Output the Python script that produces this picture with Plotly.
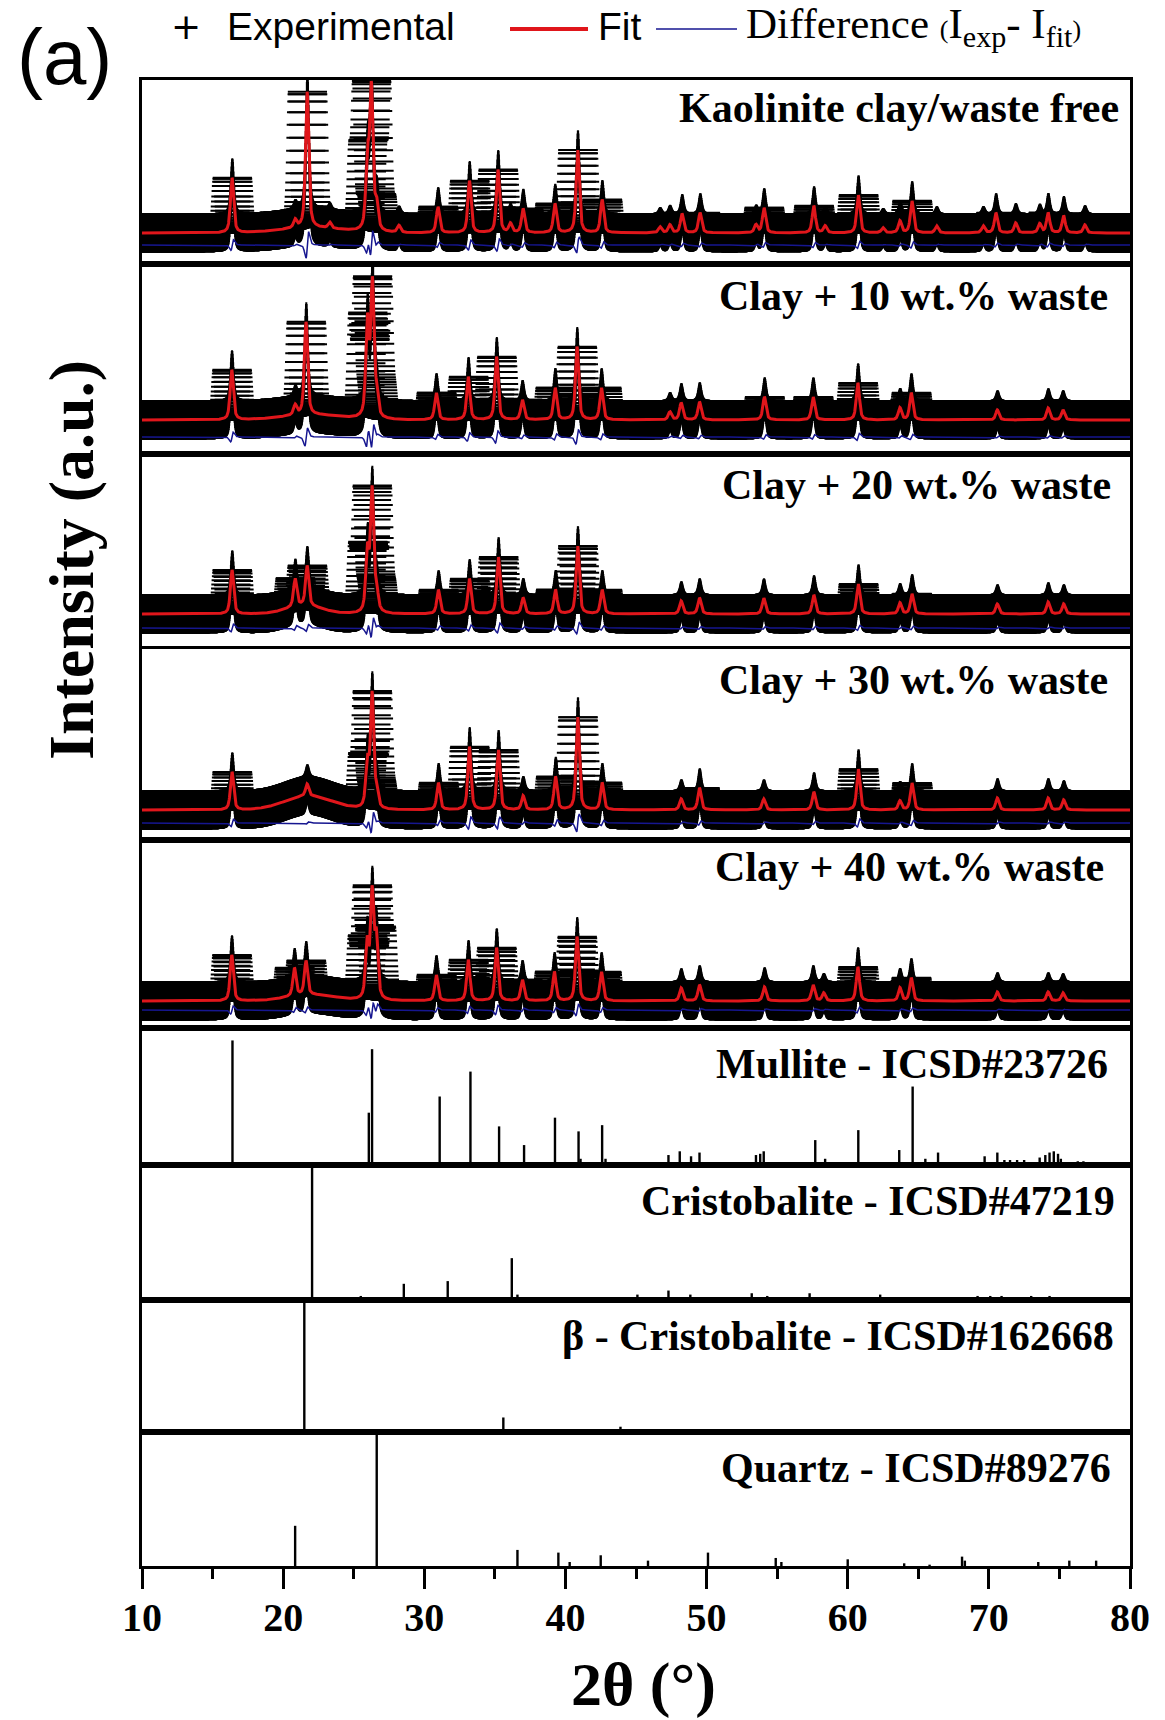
import numpy as np
import plotly.graph_objects as go
from plotly.subplots import make_subplots

# ---------------------------------------------------------------- data
# 2θ sampling of the measured diffractograms (step 0.02°)
two_theta = np.round(np.arange(10.0, 80.0001, 0.02), 3)

sample_labels = [
    "Kaolinite clay/waste free",
    "Clay + 10 wt.% waste",
    "Clay + 20 wt.% waste",
    "Clay + 30 wt.% waste",
    "Clay + 40 wt.% waste",
]

# refined reflections of each sample: position (°2θ) and height above background (a.u.)
pos_free = [16.38, 20.85, 21.70, 23.30, 25.97, 26.25, 26.62, 28.20, 30.97, 33.20, 35.22, 36.10,
            37.00, 39.26, 40.87, 42.60, 46.70, 47.40, 48.26, 49.54, 53.50, 54.07, 57.60, 58.40,
            60.75, 62.50, 63.70, 64.55, 66.30, 69.60, 70.50, 71.90, 73.60, 74.20, 75.30, 76.80]
int_free = [55, 8, 136, 6, 70, 140, 25, 7, 26, 52, 63, 9,
            24, 29, 83, 33, 6, 8, 19, 20, 8, 25, 27, 7,
            38, 5, 12, 32, 7, 7, 20, 10, 9, 20, 17, 8]

pos_10 = [16.36, 20.85, 21.62, 25.97, 26.32, 26.62, 30.85, 33.12, 35.12, 36.95, 39.27, 40.82,
          42.55, 47.40, 48.20, 49.50, 54.10, 57.55, 60.72, 63.70, 64.50, 70.60, 74.20, 75.25]
int_10 = [50, 10, 93, 95, 133, 20, 27, 43, 63, 20, 32, 73,
          32, 8, 17, 18, 23, 23, 37, 12, 27, 10, 12, 10]

pos_20 = [16.38, 20.85, 21.70, 25.97, 26.30, 26.62, 31.00, 33.20, 35.25, 37.00, 39.30, 40.87,
          42.60, 48.20, 49.50, 54.05, 57.60, 60.75, 63.70, 64.55, 70.60, 74.20, 75.30]
int_20 = [44, 28, 40, 60, 121, 20, 24, 35, 57, 16, 24, 68,
          24, 13, 16, 16, 19, 30, 11, 20, 10, 12, 10]

pos_30 = [16.38, 21.70, 25.97, 26.30, 26.62, 31.00, 33.20, 35.25, 37.00, 39.30, 40.87, 42.60,
          48.20, 49.50, 54.05, 57.60, 60.75, 63.70, 64.55, 70.60, 74.20, 75.30]
int_30 = [38, 12, 45, 113, 15, 27, 63, 60, 14, 33, 93, 27,
          11, 22, 11, 18, 41, 9, 27, 12, 12, 10]

pos_40 = [16.36, 20.80, 21.62, 25.95, 26.30, 26.60, 30.85, 33.12, 35.12, 36.95, 39.22, 40.82,
          42.55, 48.20, 49.50, 54.10, 57.55, 58.30, 60.72, 63.70, 64.50, 70.60, 74.20, 75.25]
int_40 = [46, 28, 34, 55, 104, 60, 26, 41, 53, 21, 29, 64,
          29, 13, 16, 14, 16, 8, 34, 13, 23, 9, 9, 8]

sample_positions = [pos_free, pos_10, pos_20, pos_30, pos_40]
sample_heights = [int_free, int_10, int_20, int_30, int_40]

background = [100, 100, 100, 100, 100]        # flat background level (a.u.)
hump_center = [22.0, 22.0, 21.5, 21.8, 22.0]  # broad amorphous band
hump_height = [5, 5, 8, 14, 6]
hump_fwhm = [5.0, 5.0, 3.0, 4.0, 4.0]
peak_fwhm = 0.27                              # instrumental peak width (°)
peak_eta = 0.6                                # Lorentzian fraction of the pseudo-Voigt
zero_shift = [0.02, 0.02, 0.018, 0.02, 0.018]  # measured minus refined peak positions (°)

# reference stick patterns (ICSD): position (°2θ) and relative intensity
mullite_pos = [16.41, 23.20, 26.07, 26.30, 31.09, 33.27, 35.30, 37.07, 39.26, 40.93, 41.07,
               42.60, 42.84, 47.30, 48.10, 48.90, 49.50, 53.50, 53.80, 54.05, 57.70, 58.40,
               60.75, 61.60, 63.20, 63.65, 64.60, 65.50, 66.40, 67.30, 69.70, 70.60, 71.10,
               71.50, 72.00, 72.50, 73.60, 74.00, 74.30, 74.60, 74.90, 75.10, 76.30, 76.70,
               77.70, 78.20]
mullite_int = [100, 2, 42, 93, 55, 75, 31, 16, 38, 27, 5,
               32, 5, 8, 11, 7, 10, 8, 9, 11, 20, 5,
               28, 2, 2, 12, 63, 5, 10, 2, 7, 10, 4,
               4, 4, 4, 6, 8, 10, 11, 9, 5, 3, 3,
               2, 2]

cristobalite_pos = [22.05, 25.50, 28.55, 31.66, 36.20, 36.60, 42.90, 45.10, 47.30, 48.85,
                    52.20, 53.20, 54.30, 57.30, 58.90, 60.60, 62.30, 65.50, 67.10, 69.20,
                    70.10, 70.90, 73.00, 74.30, 77.70, 78.40, 79.60]
cristobalite_int = [100, 3, 12, 14, 31, 4, 2, 4, 7, 4,
                    2, 5, 3, 5, 2, 2, 4, 2, 2, 3,
                    3, 3, 3, 3, 2, 2, 2]

beta_cristobalite_pos = [21.50, 35.60, 43.90, 56.00, 63.60, 75.00]
beta_cristobalite_int = [100, 11, 4, 1, 1, 1]

quartz_pos = [20.85, 26.63, 36.60, 39.50, 40.30, 42.50, 45.85, 50.10, 54.90, 55.30, 60.00,
              64.00, 65.80, 68.10, 68.30, 73.50, 75.70, 77.60]
quartz_int = [30, 100, 12, 10, 3, 8, 4, 10, 6, 3, 5,
              2, 1, 7, 4, 3, 4, 4]

phase_labels = ["Mullite - ICSD#23726", "Cristobalite - ICSD#47219",
                "\u03b2 - Cristobalite - ICSD#162668", "Quartz - ICSD#89276"]
phase_positions = [mullite_pos, cristobalite_pos, beta_cristobalite_pos, quartz_pos]
phase_intensities = [mullite_int, cristobalite_int, beta_cristobalite_int, quartz_int]


# ---------------------------------------------------------------- model
def pseudo_voigt(x, center, fwhm, eta):
    d = (x - center) / (fwhm / 2.0)
    lor = 1.0 / (1.0 + d ** 2)
    gau = np.exp(-np.log(2.0) * d ** 2)
    return eta * lor + (1.0 - eta) * gau


def pattern(idx, shift=0.0):
    y = np.full_like(two_theta, float(background[idx]))
    y += hump_height[idx] * pseudo_voigt(two_theta, hump_center[idx], hump_fwhm[idx], 0.0)
    for p, h in zip(sample_positions[idx], sample_heights[idx]):
        y += h * pseudo_voigt(two_theta, p + shift, peak_fwhm, peak_eta)
    return y


# ---------------------------------------------------------------- figure
W, H = 1165, 1720
L, R, T, B = 142, 35, 80, 154
row_px = [184, 190, 195, 191, 188, 137, 135, 132, 134]
plot_h = H - T - B
plot_w = W - L - R

fig = make_subplots(rows=9, cols=1, shared_xaxes=True, vertical_spacing=0,
                    row_heights=row_px)

# y-ranges of the refinement panels and offset of the difference curve
y_ranges = [[69, 253], [66, 256], [65, 260], [70, 261], [73, 261]]
diff_offset = [12, 17, 14, 13, 9]

EXP_COLOR = "black"
FIT_COLOR = "#e0161b"
DIFF_COLOR = "#161690"

for i in range(5):
    fit = pattern(i)
    obs = pattern(i, zero_shift[i])
    diff = obs - fit + background[i] - diff_offset[i]
    row = i + 1
    fig.add_trace(go.Scatter(x=two_theta, y=obs, mode="markers", name="Experimental",
                             marker=dict(symbol="cross-thin", size=28, color=EXP_COLOR,
                                         line=dict(width=2, color=EXP_COLOR)),
                             showlegend=False, hoverinfo="skip"), row=row, col=1)
    fig.add_trace(go.Scatter(x=two_theta, y=diff, mode="lines", name="Difference",
                             line=dict(color=DIFF_COLOR, width=1.5),
                             showlegend=False, hoverinfo="skip"), row=row, col=1)
    fig.add_trace(go.Scatter(x=two_theta, y=fit, mode="lines", name="Fit",
                             line=dict(color=FIT_COLOR, width=3),
                             showlegend=False, hoverinfo="skip"), row=row, col=1)
    fig.update_yaxes(range=y_ranges[i], row=row, col=1)

for j in range(4):
    xs, ys = [], []
    for p, h in zip(phase_positions[j], phase_intensities[j]):
        xs += [p, p, None]
        ys += [0, h, None]
    row = 6 + j
    fig.add_trace(go.Scatter(x=xs, y=ys, mode="lines", line=dict(color="black", width=2.4),
                             showlegend=False, hoverinfo="skip"), row=row, col=1)
    fig.update_yaxes(range=[0, 110] if j == 0 else [0, 100], row=row, col=1)

fig.update_xaxes(range=[10, 80], showline=True, mirror=True, linewidth=2.5, linecolor="black",
                 showgrid=False, zeroline=False, ticks="", showticklabels=False)
fig.update_yaxes(showline=True, mirror=True, linewidth=2.5, linecolor="black",
                 showgrid=False, zeroline=False, ticks="", showticklabels=False)
fig.update_xaxes(row=9, col=1, showticklabels=True, ticks="outside", ticklen=20, tickwidth=2.5,
                 tickcolor="black", tick0=10, dtick=10, ticklabelstandoff=-6,
                 tickfont=dict(family="Liberation Serif", size=40, color="black", weight="bold"),
                 minor=dict(ticks="outside", ticklen=10, tickwidth=2.5, tickcolor="black",
                            tick0=15, dtick=10))


def px(x):
    return (x - L) / plot_w


def py(y):
    return (H - B - y) / plot_h


serif_bold = dict(family="Liberation Serif", size=42, color="black", weight="bold")
annotations = []

# sample / phase captions
label_right = [1121, 1110, 1113, 1110, 1106, 1110, 1117, 1116, 1113]
label_y = [108, 296, 485, 680, 867, 1064, 1201, 1336, 1468]
for text, xr, yc in zip(sample_labels + phase_labels, label_right, label_y):
    annotations.append(dict(text=text, x=px(xr), y=py(yc), xref="paper", yref="paper",
                            xanchor="right", yanchor="middle", showarrow=False, font=serif_bold))

# axis titles
annotations.append(dict(text="2\u03b8 (\u00b0)", x=px(643), y=py(1684), xref="paper", yref="paper",
                        xanchor="center", yanchor="middle", showarrow=False,
                        font=dict(family="Liberation Serif", size=62, color="black", weight="bold")))
annotations.append(dict(text="Intensity (a.u.)", x=px(71), y=py(560), xref="paper", yref="paper",
                        xanchor="center", yanchor="middle", showarrow=False, textangle=-90,
                        font=dict(family="Liberation Serif", size=64, color="black", weight="bold")))
# panel tag
annotations.append(dict(text="(a)", x=px(64), y=py(57), xref="paper", yref="paper",
                        xanchor="center", yanchor="middle", showarrow=False,
                        font=dict(family="Liberation Sans", size=78, color="black")))

# legend
sans = dict(family="Liberation Sans", size=39, color="black")
annotations.append(dict(text="+", x=px(186), y=py(27), xref="paper", yref="paper",
                        xanchor="center", yanchor="middle", showarrow=False,
                        font=dict(family="DejaVu Sans", size=36, color="black")))
annotations.append(dict(text="Experimental", x=px(225), y=py(27), xref="paper", yref="paper",
                        xanchor="left", yanchor="middle", showarrow=False, font=sans))
annotations.append(dict(text="Fit", x=px(596), y=py(27), xref="paper", yref="paper",
                        xanchor="left", yanchor="middle", showarrow=False, font=sans))
annotations.append(dict(text="Difference <span style='font-size:26px'>(</span>I<sub>exp</sub>- I<sub>fit</sub><span style='font-size:26px'>)</span>",
                        x=px(744), y=py(27), xref="paper", yref="paper",
                        xanchor="left", yanchor="middle", showarrow=False,
                        font=dict(family="Liberation Serif", size=43, color="black")))

shapes = [
    dict(type="line", xref="paper", yref="paper", x0=px(510), x1=px(588), y0=py(29), y1=py(29),
         line=dict(color=FIT_COLOR, width=4)),
    dict(type="line", xref="paper", yref="paper", x0=px(656), x1=px(737), y0=py(29), y1=py(29),
         line=dict(color=DIFF_COLOR, width=1.5)),
]

fig.update_layout(width=W, height=H, margin=dict(l=L, r=R, t=T, b=B),
                  paper_bgcolor="white", plot_bgcolor="white", showlegend=False,
                  annotations=annotations, shapes=shapes)

fig.write_html("out.html")
